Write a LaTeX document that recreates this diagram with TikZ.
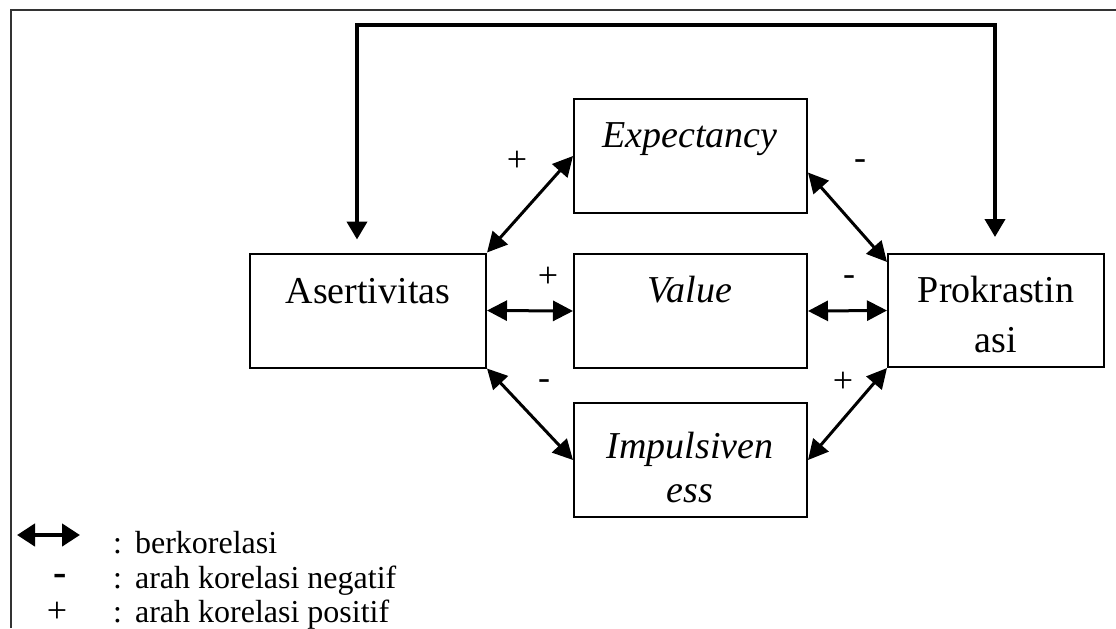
\documentclass[tikz,border=0pt]{standalone}
\usepackage{fontspec}
\setmainfont{Liberation Serif}
\usetikzlibrary{arrows.meta}

\tikzset{
  box/.style={draw, line width=1pt, inner sep=0pt},
  boxtext/.style={anchor=base, font=\fontsize{19}{22}\selectfont},
  corr/.style={{Triangle[length=10pt,width=10pt]}-{Triangle[length=10pt,width=10pt]}, line width=1.5pt},
  sign/.style={font=\fontsize{18}{20}\selectfont},
  legtext/.style={anchor=base west, font=\fontsize{16}{18}\selectfont},
}

\begin{document}
\begin{tikzpicture}[x=0.5pt,y=-0.5pt]
\useasboundingbox (0,0) rectangle (1116,628);
\clip (0,0) rectangle (1116,628);
% frame
\draw[line width=0.8pt, black!80] (11,628) -- (11,10) -- (1116,10);

% A) boxes
\node[box, minimum width=118pt, minimum height=57pt] (asert) at (368,310.5) {};
\node[box, minimum width=116.5pt, minimum height=57pt] (expect) at (690.5,156) {};
\node[box, minimum width=116.5pt, minimum height=57pt] (value) at (690.5,311) {};
\node[box, minimum width=116.5pt, minimum height=57pt] (impuls) at (690.5,460) {};
\node[box, minimum width=108pt, minimum height=56.5pt] (prok) at (996,310.5) {};

\node[boxtext] (asertT) at (368,303) {Asertivitas};
\node[boxtext] (expectT) at (690,147) {\itshape Expectancy};
\node[boxtext] (valueT) at (690,302) {\itshape Value};
\node[boxtext] (impulsT) at (690,458) {\itshape Impulsiven};
\node[boxtext] (impulsT2) at (690,502) {\itshape ess};
\node[boxtext] (prokT) at (996,302) {Prokrastin};
\node[boxtext] (prokT2) at (996,352) {asi};

% B) feedback line
\coordinate (fbL) at (357,25);
\coordinate (fbR) at (995,25);
\draw[line width=2pt, {Triangle[length=9pt,width=10pt]}-{Triangle[length=9pt,width=10pt]}]
  ([yshift=6.5pt]fbL |- asert.north) -- (fbL) -- (fbR) -- ([yshift=8pt]fbR |- prok.north);

% C) correlations
\draw[corr] (asert.north east) -- (expect.west);
\draw[corr] (expect.-8) -- (prok.156);
\draw[corr] (asert.east) -- (value.west);
\draw[corr] (value.east) -- (prok.west);
\draw[corr] (asert.south east) -- (impuls.west);
\draw[corr] (impuls.east) -- (prok.south west);

\node[sign] (s1) at (517,161) {+};
\node[sign] (s2) at (860,165) {-};
\node[sign] (s3) at (548,277) {+};
\node[sign] (s4) at (849,281) {-};
\node[sign] (s5) at (544,385) {-};
\node[sign] (s6) at (843,382) {+};

% D) legend
\coordinate (legA) at (17,535);
\coordinate (legB) at (80,535);
\draw[line width=2.2pt, {Triangle[length=9pt,width=11pt]}-{Triangle[length=9pt,width=11pt]}] (legA) -- (legB);
\node[sign, font=\fontsize{20}{20}\bfseries] (legMinus) at (60,580) {-};
\node[sign] (legPlus) at (57,612) {+};
\node[legtext] (c1) at (106,553) {:};
\node[legtext] (c2) at (106,588) {:};
\node[legtext] (c3) at (106,622) {:};
\node[legtext] (l1) at (128,553) {berkorelasi};
\node[legtext] (l2) at (128,588) {arah korelasi negatif};
\node[legtext] (l3) at (128,622) {arah korelasi positif};
\end{tikzpicture}
\end{document}
